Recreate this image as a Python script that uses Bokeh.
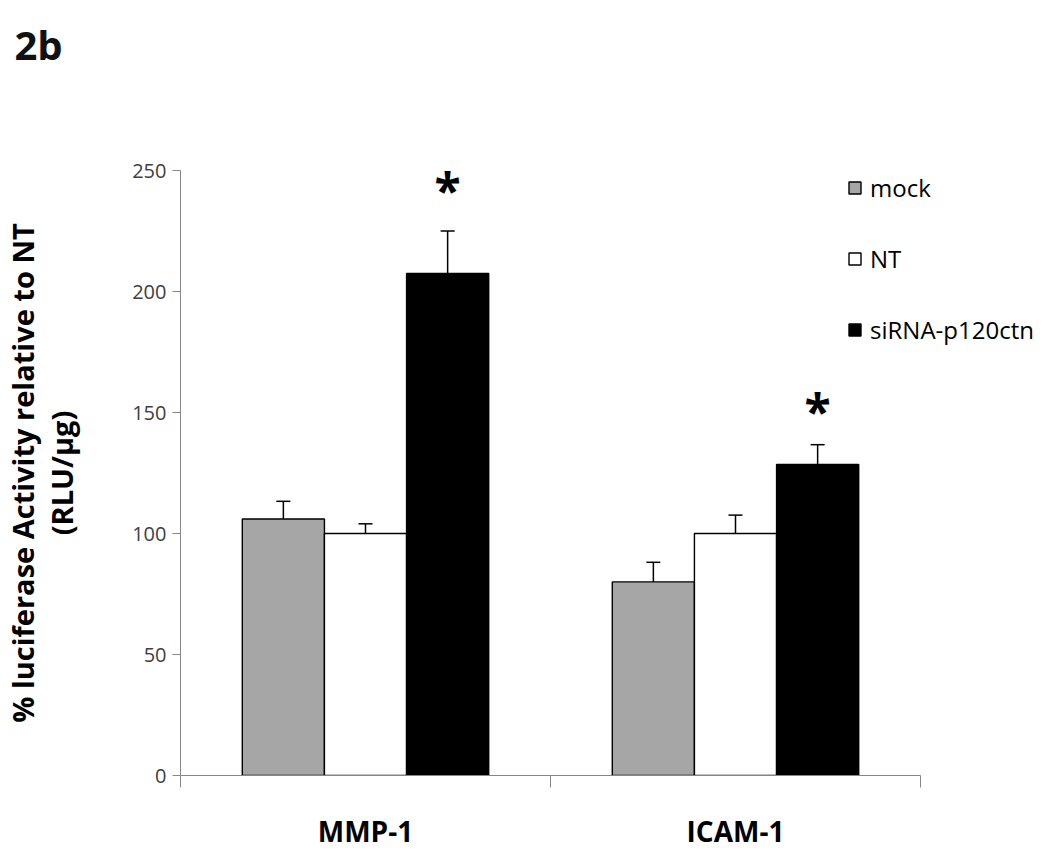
from bokeh.plotting import figure
from bokeh.models import (ColumnDataSource, FixedTicker, Whisker, TeeHead,
                          Legend, LegendItem, Range1d, Title)
from bokeh.core.properties import value
from bokeh.embed import file_html
from bokeh.resources import INLINE

# ---- data ----
genes = ["MMP-1", "ICAM-1"]
series = ["mock", "NT", "siRNA-p120ctn"]
mock = [106.0, 80.0]
nt = [100.0, 100.0]
sirna = [207.5, 128.5]
mock_err = [7.3, 8.1]
nt_err = [4.0, 7.6]
sirna_err = [17.5, 8.2]
star_y = [242.0, 151.0]          # asterisk height over siRNA bars
y_ticks = [0, 50, 100, 150, 200, 250]

values = [mock, nt, sirna]
errors = [mock_err, nt_err, sirna_err]
colors = ["#A6A6A6", "#FFFFFF", "#000000"]
FONT = "Open Sans"
AXIS_GRAY = "#868686"

# ---- layout (pixels) ----
W, H = 1046, 852
FRAME_L, AXIS_R, FRAME_R = 180, 920, 1042
x_end = len(genes) * (FRAME_R - FRAME_L) / (AXIS_R - FRAME_L)

p = figure(width=W, height=H, output_backend="svg", toolbar_location=None,
           x_range=Range1d(0, x_end), y_range=Range1d(0, 250),
           min_border_left=FRAME_L, min_border_right=W - FRAME_R, min_border_top=170,
           min_border_bottom=75)
p.outline_line_color = None
p.xgrid.visible = False
p.ygrid.visible = False

bw = 0.222
offsets = [-bw, 0.0, bw]
renderers = []
for k, (name, vals, errs, col) in enumerate(zip(series, values, errors, colors)):
    xs = [i + 0.5 + offsets[k] for i in range(len(genes))]
    src = ColumnDataSource(dict(x=xs, top=vals,
                                upper=[v + e for v, e in zip(vals, errs)]))
    r = p.vbar(x="x", top="top", width=bw, source=src, fill_color=col,
               line_color="black", line_width=1.4)
    renderers.append(r)
    w = Whisker(source=src, base="x", lower="top", upper="upper",
                line_color="black", line_width=1.5, lower_head=None,
                upper_head=TeeHead(size=14, line_color="black", line_width=1.5))
    p.add_layout(w)

star_x = [i + 0.5 + offsets[2] for i in range(len(genes))]
p.text(x=star_x, y=star_y, text=["*"] * len(genes), text_font=value(FONT),
       text_font_style="bold", text_font_size="48px", text_align="center",
       text_baseline="middle", text_color="black")

# y axis
p.yaxis.ticker = FixedTicker(ticks=y_ticks)
p.yaxis.axis_line_color = AXIS_GRAY
p.yaxis.major_tick_line_color = AXIS_GRAY
p.yaxis.major_tick_out = 8
p.yaxis.major_tick_in = 0
p.yaxis.minor_tick_line_color = None
p.yaxis.major_label_text_font = FONT
p.yaxis.major_label_text_font_size = "20px"
p.yaxis.major_label_text_color = "#404040"
p.yaxis.major_label_standoff = 6
p.yaxis.axis_label = "% luciferase Activity relative to NT\n(RLU/µg)"
p.yaxis.axis_label_text_font = FONT
p.yaxis.axis_label_text_font_style = "bold"
p.yaxis.axis_label_text_font_size = "29px"
p.yaxis.axis_label_text_line_height = 1.0
p.yaxis.axis_label_text_color = "black"
p.yaxis.axis_label_standoff = 48

# x axis
p.xaxis.bounds = (0, len(genes))
p.xaxis.ticker = FixedTicker(ticks=[i + 0.5 for i in range(len(genes))],
                             minor_ticks=list(range(len(genes) + 1)))
p.xaxis.major_label_overrides = {i + 0.5: g for i, g in enumerate(genes)}
p.xaxis.axis_line_color = AXIS_GRAY
p.xaxis.major_tick_line_color = None
p.xaxis.major_tick_out = 0
p.xaxis.major_tick_in = 0
p.xaxis.minor_tick_line_color = AXIS_GRAY
p.xaxis.minor_tick_out = 12
p.xaxis.minor_tick_in = 0
p.xaxis.major_label_text_font = FONT
p.xaxis.major_label_text_font_style = "bold"
p.xaxis.major_label_text_font_size = "28px"
p.xaxis.major_label_text_color = "black"
p.xaxis.major_label_standoff = 24

legend = Legend(items=[LegendItem(label=s, renderers=[r]) for s, r in zip(series, renderers)],
                location=(667, 429), border_line_color=None, background_fill_alpha=0,
                padding=0, margin=0, spacing=38, glyph_width=15, glyph_height=15,
                label_height=30, label_standoff=8, label_text_font=FONT,
                label_text_font_size="24px", label_text_color="black")
p.add_layout(legend)

# panel label "2b": a blank spacer title next to the frame pushes it to the top
p.add_layout(Title(text=" ", text_font_size="2px", standoff=93), "above")
p.add_layout(Title(text="2b", align="left", offset=14 - FRAME_L, standoff=0,
                   vertical_align="top", text_font=FONT, text_font_style="bold",
                   text_font_size="40px", text_color="#111111"), "above")

open("out.html", "w").write(file_html(p, INLINE))
